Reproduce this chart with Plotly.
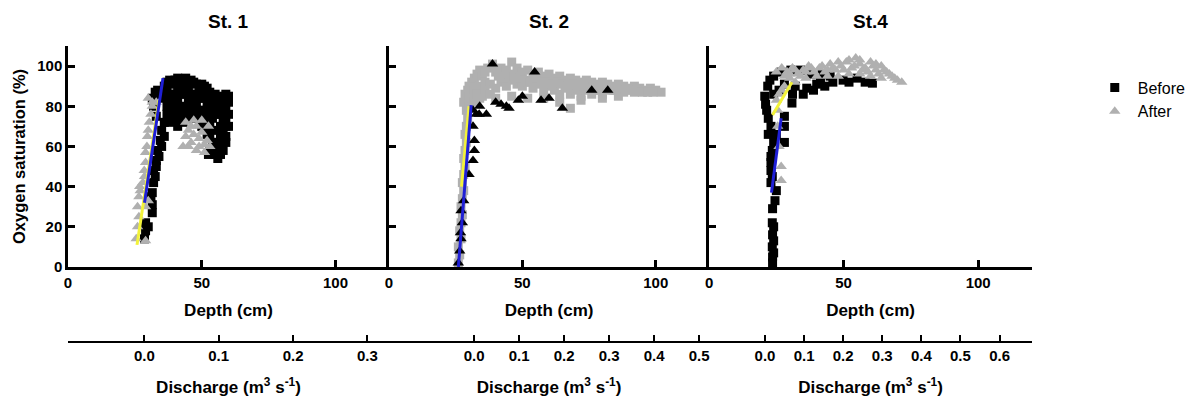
import plotly.graph_objects as go

# ---------------- data (depth in cm, oxygen saturation in %) ----------------
stations = ["St. 1", "St. 2", "St.4"]

st1_sq_x = [28.6, 29, 29, 30, 31.5, 31.5, 31, 31.5, 32, 32.6, 32, 33, 33, 34, 33.5, 35, 34.5, 36, 35, 36, 33, 32, 31.5, 32.6, 33.5, 34, 32,
            36, 37, 38, 39, 40, 41, 42, 43, 44, 45, 46, 47, 48, 49, 50, 51, 52, 53, 54, 55, 56, 57, 58, 59, 60,
            36, 37, 37, 38, 39, 40, 40, 41, 42, 42, 43, 44, 44, 45, 46, 46, 47, 48, 48, 49, 50, 50, 51, 52, 52, 53, 53,
            54, 54, 55, 55, 56, 56, 57, 57, 58, 58, 59, 60, 59, 57, 55, 53, 52.5, 56, 60, 58, 59,
            37, 39, 41, 43, 45, 47, 49, 51, 53, 55, 57, 59, 38, 40, 42, 44, 46, 48, 50, 52, 54, 56, 58, 60,
            41, 43, 45, 39, 38, 47, 51, 53, 55, 57, 59, 54, 56, 58]
st1_sq_y = [14, 18, 22, 20, 27, 31, 35, 37, 42, 45, 48, 50, 53, 55, 58, 60, 63, 65, 68, 72, 75, 80, 84, 87, 88, 86, 83,
            90, 92, 93, 91, 93, 94, 92, 93, 94, 92, 93, 92, 91, 90, 91, 90, 89, 87, 85, 86, 84, 83, 85, 86, 85,
            84, 80, 76, 86, 78, 74, 84, 70, 78, 86, 72, 80, 88, 74, 84, 78, 86, 80, 74, 84, 78, 70, 84, 76, 66, 80, 70,
            62, 74, 80, 68, 58, 76, 70, 62, 78, 66, 74, 76, 62, 56, 56, 58, 56, 54, 70, 73, 65,
            88, 86, 88, 86, 88, 80, 76, 78, 84, 76, 78, 80, 82, 80, 74, 76, 74, 86, 86, 82, 80, 80, 70, 82,
            82, 78, 82, 74, 72, 76, 72, 66, 62, 66, 70, 58, 62, 58]
st1_tri_x = [25.5, 26, 26.5, 26, 26.5, 27, 26.8, 28, 28.6, 28.5, 29, 29, 29.5, 29.7, 30, 30.4, 31, 31.5, 31.5, 30, 29, 33, 29, 30,
             43, 44, 45, 45, 46, 47, 47, 48, 48, 49, 50, 50, 51, 52, 52.5, 53, 46, 44, 49, 51]
st1_tri_y = [14, 20, 25, 30, 35, 38, 40, 42, 45, 48, 52, 57, 60, 65, 68, 72, 76, 80, 82, 84, 13, 82, 30, 33,
             60, 65, 60, 68, 62, 66, 73, 58, 70, 64, 73, 67, 61, 63, 70, 60, 70, 72, 60, 57]

st2_sq_x = [26, 26.5, 26, 27, 26.5, 27, 27.5, 27, 27.5, 28, 27.5, 28, 28.5, 28, 28.5, 29, 28.5, 29, 29.5, 29, 28, 28.5, 29.5,
            30, 31, 32, 33, 34, 35, 36, 37, 38.8, 40, 42, 44, 46, 48, 50, 52, 54, 56, 58, 60, 62, 64, 66, 68, 70, 72, 74,
            76, 78, 80, 82, 84, 86, 88, 90, 92, 94, 96, 98, 100, 102,
            30, 32, 34, 36, 38, 40, 42, 44, 46, 48, 50, 52, 54, 56, 58, 60, 62, 64, 66, 68, 70, 72, 74, 76, 78, 80, 84,
            88, 92, 35, 40, 46, 52, 58, 64, 68, 72, 80, 86,
            30, 31, 32, 33, 34, 36, 38, 41, 43, 45, 47, 49, 51, 53, 55, 57, 59, 61, 63, 65, 67, 69, 71, 73, 75, 77, 79,
            81, 83, 85, 87, 89, 91, 93, 95, 97, 99]
st2_sq_y = [2, 6, 10, 14, 18, 22, 26, 30, 34, 38, 42, 46, 50, 54, 58, 62, 66, 70, 74, 78, 82, 86, 88,
            90, 92, 94, 96, 98, 95, 97, 99, 101, 97, 99, 98, 102, 99, 97, 98, 96, 97, 95, 96, 94, 95, 93, 94, 93, 92, 93,
            92, 91, 92, 91, 90, 91, 90, 89, 90, 89, 88, 89, 88, 87,
            85, 88, 90, 92, 91, 89, 92, 90, 93, 91, 90, 92, 89, 91, 88, 90, 88, 86, 89, 86, 88, 85, 88, 86, 88, 86, 88,
            87, 87, 85, 84, 85, 84, 84, 82, 79, 83, 84, 85,
            80, 84, 82, 86, 84, 88, 86, 95, 94, 96, 95, 94, 93, 92, 94, 92, 92, 91, 92, 91, 90, 91, 89, 90, 89, 89, 88,
            89, 88, 88, 89, 88, 88, 88, 87, 87, 87]
st2_tri_x = [26, 26.5, 27, 26.8, 27.5, 27, 28, 30, 31.5, 32, 32, 31.5, 31.5, 32.7, 33.8, 36.5, 34, 44, 45, 48.5, 42, 40,
             54.6, 57, 65, 38.8, 76, 82, 60, 50]
st2_tri_y = [2, 8, 14, 17, 22, 28, 33, 46, 53, 58, 63, 70, 78, 76, 76, 76, 80, 80, 79, 83, 81, 82,
             97, 83, 79, 101, 88, 88, 84, 85]

st4_sq_x = [23.6, 23.6, 24, 23.5, 24, 23.6, 24, 23.5, 23.6, 24.5, 25, 23, 23.5, 23, 23, 23, 23.5, 24, 25, 28, 28, 28, 23, 22,
            21.4, 21, 20.7, 21.8, 22.6, 24, 26.8, 30.4, 34, 30.8, 31, 36.3, 38.8, 41.4, 45, 49.8, 55, 60.7, 38, 42, 26,
            28, 24, 22, 32, 35, 40, 46, 52, 58, 43]
st4_sq_y = [2, 5, 7, 10, 13, 16, 20, 22, 29, 33, 38, 42, 45, 48, 52, 55, 58, 62, 66, 62, 70, 75, 70, 74,
            78, 81, 85, 90, 93, 95, 97, 98, 98, 81.6, 86, 89, 88, 93, 95, 93, 94, 91.5, 96, 96, 88,
            91, 86, 66, 90, 86, 91, 92, 92, 92, 90]
st4_tri_x = [25, 27, 29, 31, 33, 35, 37, 39, 41, 43, 45, 47, 49, 51, 53, 54.5, 56, 58, 60, 62, 64, 66, 68, 70, 71.6,
             44, 48, 52, 56, 60, 64, 36, 32, 28, 26, 25, 25.5, 25.5, 26, 26.8, 26.8, 27, 30,
             28, 30, 32, 34, 38, 40, 42, 46, 50, 54, 57, 59, 61, 63, 65, 67, 69, 52, 56, 48, 62, 36, 44]
st4_tri_y = [97, 99, 97, 99, 96, 98, 100, 97, 99, 97, 101, 98, 100, 102, 99, 104, 101, 99, 102, 98, 100, 97, 95, 93, 92,
             95, 95, 96, 96, 95, 94, 94, 92, 90, 86, 83, 78, 70, 60, 50, 43, 88, 94,
             95, 96, 98, 95, 99, 95, 100, 99, 98, 100, 98, 97, 100, 96, 98, 96, 94, 103, 103, 102, 101, 97, 98]

# regression lines (endpoints)
before_fit_x = [[28.6, 35.5], [26, 30.8], [23.2, 26.8]]
before_fit_y = [[32, 94], [0, 80.6], [37, 74]]
after_fit_x = [[25.8, 34], [27.2, 30], [23.6, 30.8]]
after_fit_y = [[11, 83], [40, 80], [75.6, 92]]

# secondary discharge axis: visible ranges and tick values
discharge_ranges = [[-0.1026, 0.329], [-0.189, 0.522], [-0.143, 0.683]]
discharge_ticks = [[0.0, 0.1, 0.2, 0.3], [0.0, 0.1, 0.2, 0.3, 0.4, 0.5], [0.0, 0.1, 0.2, 0.3, 0.4, 0.5, 0.6]]

depth_ticks = [0, 50, 100]
oxy_ticks = [0, 20, 40, 60, 80, 100]

# ---------------- styling ----------------
BLACK = "#000000"
GREY = "#b0b0b0"
BLUE = "#1f1fd6"
YELLOW = "#f2f23a"
FONT = "Liberation Sans, Arial, sans-serif"

sq_x = [st1_sq_x, st2_sq_x, st4_sq_x]
sq_y = [st1_sq_y, st2_sq_y, st4_sq_y]
tri_x = [st1_tri_x, st2_tri_x, st4_tri_x]
tri_y = [st1_tri_y, st2_tri_y, st4_tri_y]
sq_col = [BLACK, GREY, BLACK]
tri_col = [GREY, BLACK, GREY]

domains = [[0.0, 0.333], [0.333, 0.665], [0.665, 1.0]]
ydom = [0.251, 1.0]

fig = go.Figure()
for i in range(3):
    xa = "x" if i == 0 else f"x{i+1}"
    ya = "y" if i == 0 else f"y{i+1}"
    fig.add_trace(go.Scatter(x=sq_x[i], y=sq_y[i], mode="markers", xaxis=xa, yaxis=ya,
                             marker=dict(symbol="square", size=9, color=sq_col[i], line=dict(width=0)),
                             name="Before", legendgroup="before", showlegend=(i == 0)))
    fig.add_trace(go.Scatter(x=tri_x[i], y=tri_y[i], mode="markers", xaxis=xa, yaxis=ya,
                             marker=dict(symbol="triangle-up", size=10, color=tri_col[i], line=dict(width=0)),
                             name="After", legendgroup="after", showlegend=(i == 0)))
    fig.add_trace(go.Scatter(x=after_fit_x[i], y=after_fit_y[i], mode="lines", xaxis=xa, yaxis=ya,
                             line=dict(color=YELLOW, width=3), showlegend=False, hoverinfo="skip"))
    fig.add_trace(go.Scatter(x=before_fit_x[i], y=before_fit_y[i], mode="lines", xaxis=xa, yaxis=ya,
                             line=dict(color=BLUE, width=3), showlegend=False, hoverinfo="skip"))
    # empty helper trace so the discharge axis subplot gets drawn
    fig.add_trace(go.Scatter(x=discharge_ticks[i], y=[None] * len(discharge_ticks[i]), mode="markers",
                             xaxis=f"x{i+4}", yaxis=f"y{i+4}", showlegend=False, hoverinfo="skip"))

axis_common = dict(showline=True, linecolor="black", linewidth=2.5, ticks="inside", ticklen=7,
                   tickwidth=2.5, tickcolor="black", showgrid=False, zeroline=False,
                   tickfont=dict(family=FONT, size=15, color="black", weight="bold"))

# page body has an 8px margin, so plot-area margins are reduced by 8px
layout = dict(
    width=1195, height=401, plot_bgcolor="white", paper_bgcolor="white",
    margin=dict(l=60, r=150, t=38, b=68),
    font=dict(family=FONT, color="black"),
    legend=dict(x=1.062, y=0.917, xanchor="left", yanchor="top", tracegroupgap=0,
                font=dict(family=FONT, size=16, color="black"), itemwidth=36,
                bgcolor="rgba(0,0,0,0)"),
    annotations=[],
)

for i in range(3):
    xk = "xaxis" if i == 0 else f"xaxis{i+1}"
    yk = "yaxis" if i == 0 else f"yaxis{i+1}"
    ya = "y" if i == 0 else f"y{i+1}"
    xa = "x" if i == 0 else f"x{i+1}"
    layout[xk] = dict(axis_common, domain=domains[i], anchor=ya, range=[0, 120],
                      tickvals=depth_ticks, ticktext=[str(t) for t in depth_ticks],
                      title=dict(text="Depth (cm)", standoff=15,
                                 font=dict(family=FONT, size=17, weight="bold")),
                      automargin=False)
    layout[yk] = dict(axis_common, domain=ydom, anchor=xa, range=[0, 110],
                      tickvals=oxy_ticks, showticklabels=(i == 0), automargin=False)
    # discharge axis on its own thin subplot at the bottom
    layout[f"xaxis{i+4}"] = dict(axis_common, domain=domains[i], anchor=f"y{i+4}", side="bottom",
                                 range=discharge_ranges[i], tickvals=discharge_ticks[i],
                                 ticktext=[f"{t:.1f}" for t in discharge_ticks[i]],
                                 ticklen=6, tickwidth=2, linewidth=2, automargin=False,
                                 title=dict(text="Discharge (m<sup>3</sup> s<sup>-1</sup>)", standoff=18,
                                            font=dict(family=FONT, size=17, weight="bold")))
    layout[f"yaxis{i+4}"] = dict(domain=[0, 0.02], anchor=f"x{i+4}", range=[0, 1], visible=False)
    layout["annotations"].append(dict(text=stations[i], xref="paper", yref="paper",
                                      x=sum(domains[i]) / 2, y=(333 - 14) / 295, xanchor="center",
                                      yanchor="middle", showarrow=False,
                                      font=dict(family=FONT, size=19, weight="bold", color="black")))

layout["yaxis"]["title"] = dict(text="Oxygen saturation (%)", standoff=8,
                                font=dict(family=FONT, size=16.5, weight="bold"))

fig.update_layout(**layout)
fig.write_html("out.html")
